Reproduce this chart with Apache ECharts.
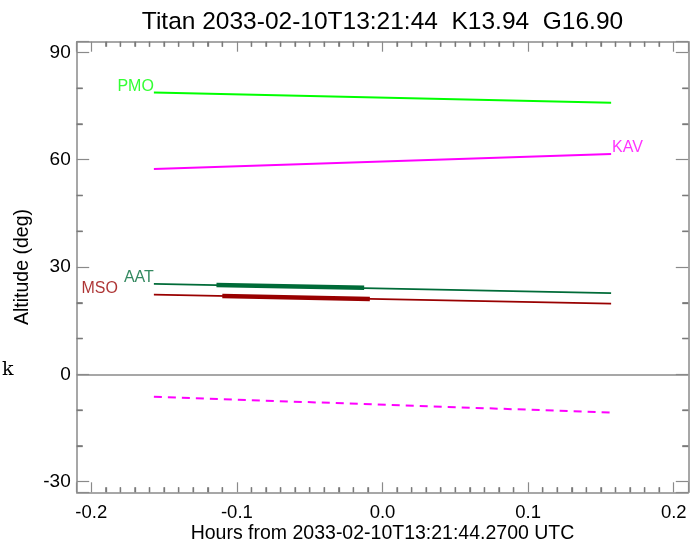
<!DOCTYPE html>
<html>
<head>
<meta charset="utf-8">
<script src="https://cdn.jsdelivr.net/npm/echarts@6/dist/echarts.min.js"></script>
<style>
html,body{margin:0;padding:0;background:#fff;}
#chart{width:700px;height:541px;}
</style>
</head>
<body>
<div id="chart"></div>
<script>
// ---- data ----
const titleText = 'Titan 2033-02-10T13:21:44  K13.94  G16.90';
const xAxisName = 'Hours from 2033-02-10T13:21:44.2700 UTC';
const yAxisName = 'Altitude (deg)';
const xRange = [-0.21, 0.21];
const yRange = [-33, 93];
const xMinorStep = 0.01;   // minor tick spacing (hours)
const yMinorStep = 10;     // minor tick spacing (deg)

const hours = [-0.157, 0.157];
const pmoAlt = [78.8, 75.9];
const kavAlt = [57.4, 61.6];
const aatAlt = [25.3, 22.7];
const msoAlt = [22.25, 19.75];
const kavBelowAlt = [-6.3, -10.7];

const aatThickHours = [-0.114, -0.0126];
const aatThickAlt = [24.95, 24.2];
const msoThickHours = [-0.110, -0.0087];
const msoThickAlt = [21.9, 21.05];

const colors = { PMO: '#00ff00', KAV: '#ff00ff', AAT: '#006b38', MSO: '#990000' };
const frameColor = '#8a8a8a';
const minorColor = '#7a7a7a';
const sans = 'Liberation Sans, Arial, sans-serif';

function pts(xs, ys) { return xs.map((x, i) => [x, ys[i]]); }

const chart = echarts.init(document.getElementById('chart'), null, { renderer: 'canvas' });

const tickLine = { color: frameColor, width: 1.2 };
const minorLine = { color: minorColor, width: 1.3 };

function xAx(pos, gridIndex, withLabels) {
  const o = {
    type: 'value', gridIndex: gridIndex, position: pos, min: xRange[0], max: xRange[1], splitNumber: 4,
    axisLine: { show: true, onZero: false, lineStyle: { color: frameColor, width: 1.5 } },
    axisTick: { show: true, inside: true, length: 10, lineStyle: tickLine },
    minorTick: { show: true, splitNumber: 10, length: 5, lineStyle: minorLine },
    splitLine: { show: false }
  };
  if (withLabels) {
    o.axisLabel = { fontSize: 18.5, color: '#000', fontFamily: sans, margin: 11,
      showMinLabel: false, showMaxLabel: false, formatter: v => v.toFixed(1) };
    o.name = xAxisName; o.nameLocation = 'middle'; o.nameGap = 31; o.nameMoveOverlap = false;
    o.nameTextStyle = { fontSize: 19.5, color: '#000', fontFamily: sans };
  } else {
    o.axisLabel = { show: false };
  }
  return o;
}
function yAx(pos, gridIndex, withLabels) {
  const o = {
    type: 'value', gridIndex: gridIndex, position: pos, min: yRange[0], max: yRange[1], splitNumber: 4,
    axisLine: { show: true, onZero: false, lineStyle: { color: frameColor, width: 1.5 } },
    axisTick: { show: true, inside: true, length: 12.5, lineStyle: tickLine },
    minorTick: { show: true, splitNumber: 3, length: 6, lineStyle: minorLine },
    splitLine: { show: false }
  };
  if (withLabels) {
    o.axisLabel = { fontSize: 19, color: '#000', fontFamily: sans, margin: 6,
      showMinLabel: false, showMaxLabel: false };
    o.name = yAxisName; o.nameLocation = 'middle'; o.nameGap = 43; o.nameRotate = 90;
    o.nameTextStyle = { fontSize: 19.5, color: '#000', fontFamily: sans };
  } else {
    o.axisLabel = { show: false };
  }
  return o;
}

function labelSeries(name, xs, ys, idx, label) {
  return {
    type: 'scatter', name: name + '-label', symbolSize: 0, silent: true,
    data: [[xs[idx], ys[idx]]],
    label: Object.assign({ show: true, formatter: name, color: colors[name], fontSize: 16,
      fontFamily: sans }, label)
  };
}

const gridBox = { left: 76.7, right: 11.7, top: 41.7, bottom: 48.7, containLabel: false, outerBoundsMode: 'none' };
const kText = { id: 'k', type: 'text', left: 2, top: 361, silent: true,
  style: { text: 'k', fontSize: 19, fontFamily: 'DejaVu Serif, Liberation Serif, serif', fill: '#000' } };

chart.setOption({
  animation: false,
  backgroundColor: '#fff',
  title: {
    text: titleText, left: 382.5, textAlign: 'center', top: 10, padding: 0,
    textStyle: { fontSize: 24.5, fontWeight: 'normal', color: '#000', fontFamily: sans }
  },
  graphic: [kText],
  grid: [Object.assign({}, gridBox), Object.assign({}, gridBox)],
  xAxis: [xAx('bottom', 0, true), xAx('top', 1, false)],
  yAxis: [yAx('left', 0, true), yAx('right', 1, false)],
  series: [
    { type: 'line', name: 'PMO', data: pts(hours, pmoAlt), symbol: 'none', lineStyle: { color: colors.PMO, width: 2 } },
    { type: 'line', name: 'KAV', data: pts(hours, kavAlt), symbol: 'none', lineStyle: { color: colors.KAV, width: 2 } },
    { type: 'line', name: 'AAT', data: pts(hours, aatAlt), symbol: 'none', lineStyle: { color: colors.AAT, width: 1.8 } },
    { type: 'line', name: 'MSO', data: pts(hours, msoAlt), symbol: 'none', lineStyle: { color: colors.MSO, width: 1.8 } },
    { type: 'line', name: 'AAT-obs', data: pts(aatThickHours, aatThickAlt), symbol: 'none', lineStyle: { color: colors.AAT, width: 4.5 } },
    { type: 'line', name: 'MSO-obs', data: pts(msoThickHours, msoThickAlt), symbol: 'none', lineStyle: { color: colors.MSO, width: 4.5 } },
    { type: 'line', name: 'KAV-below', data: pts(hours, kavBelowAlt), symbol: 'none',
      lineStyle: { color: colors.KAV, width: 2, type: [8, 6] },
      markLine: { silent: true, symbol: 'none', label: { show: false },
        lineStyle: { color: frameColor, width: 1.5, type: 'solid' }, data: [{ yAxis: 0 }] } },
    labelSeries('PMO', hours, pmoAlt, 0, { position: 'left', distance: 0, offset: [0, -6] }),
    labelSeries('AAT', hours, aatAlt, 0, { position: 'left', distance: 0, offset: [0, -6] }),
    labelSeries('MSO', hours, msoAlt, 0, { position: 'left', distance: 36, offset: [0, -6] }),
    labelSeries('KAV', hours, kavAlt, 1, { position: 'right', distance: 1, offset: [0, -6] })
  ]
});

// Minor ticks placed through the axes' own scales; fall back to the grid box if conversion fails
(function addMinorTicks() {
  const W = 700, H = 541;
  const gl = gridBox.left, gr = W - gridBox.right, gt = gridBox.top, gb = H - gridBox.bottom;
  function toX(v) {
    let p;
    try { p = chart.convertToPixel({ xAxisIndex: 0 }, v); } catch (e) { p = NaN; }
    if (Array.isArray(p)) p = p[0];
    if (!isFinite(p)) p = gl + (v - xRange[0]) / (xRange[1] - xRange[0]) * (gr - gl);
    return p;
  }
  function toY(v) {
    let p;
    try { p = chart.convertToPixel({ yAxisIndex: 0 }, v); } catch (e) { p = NaN; }
    if (Array.isArray(p)) p = p[1];
    if (!isFinite(p)) p = gb - (v - yRange[0]) / (yRange[1] - yRange[0]) * (gb - gt);
    return p;
  }
  const els = [kText];
  const yBottom = toY(yRange[0]), yTop = toY(yRange[1]);
  const xLeft = toX(xRange[0]), xRight = toX(xRange[1]);
  const st = { stroke: minorColor, lineWidth: 1.3, fill: null };
  const kx0 = Math.ceil(xRange[0] / xMinorStep - 1e-9), kx1 = Math.floor(xRange[1] / xMinorStep + 1e-9);
  for (let k = kx0; k <= kx1; k++) {
    if (k % 10 === 0) continue;
    const px = toX(k * xMinorStep);
    if (px <= xLeft + 0.5 || px >= xRight - 0.5) continue;
    els.push({ id: 'xb' + k, type: 'line', silent: true, z: 100, shape: { x1: px, y1: yBottom, x2: px, y2: yBottom - 5 }, style: st });
    els.push({ id: 'xt' + k, type: 'line', silent: true, z: 100, shape: { x1: px, y1: yTop, x2: px, y2: yTop + 5 }, style: st });
  }
  const ky0 = Math.ceil(yRange[0] / yMinorStep), ky1 = Math.floor(yRange[1] / yMinorStep);
  for (let k = ky0; k <= ky1; k++) {
    if ((k * yMinorStep) % 30 === 0) continue;
    const py = toY(k * yMinorStep);
    els.push({ id: 'yl' + k, type: 'line', silent: true, z: 100, shape: { x1: xLeft, y1: py, x2: xLeft + 6, y2: py }, style: st });
    els.push({ id: 'yr' + k, type: 'line', silent: true, z: 100, shape: { x1: xRight, y1: py, x2: xRight - 6, y2: py }, style: st });
  }
  chart.setOption({ graphic: els });
})();
</script>
</body>
</html>
